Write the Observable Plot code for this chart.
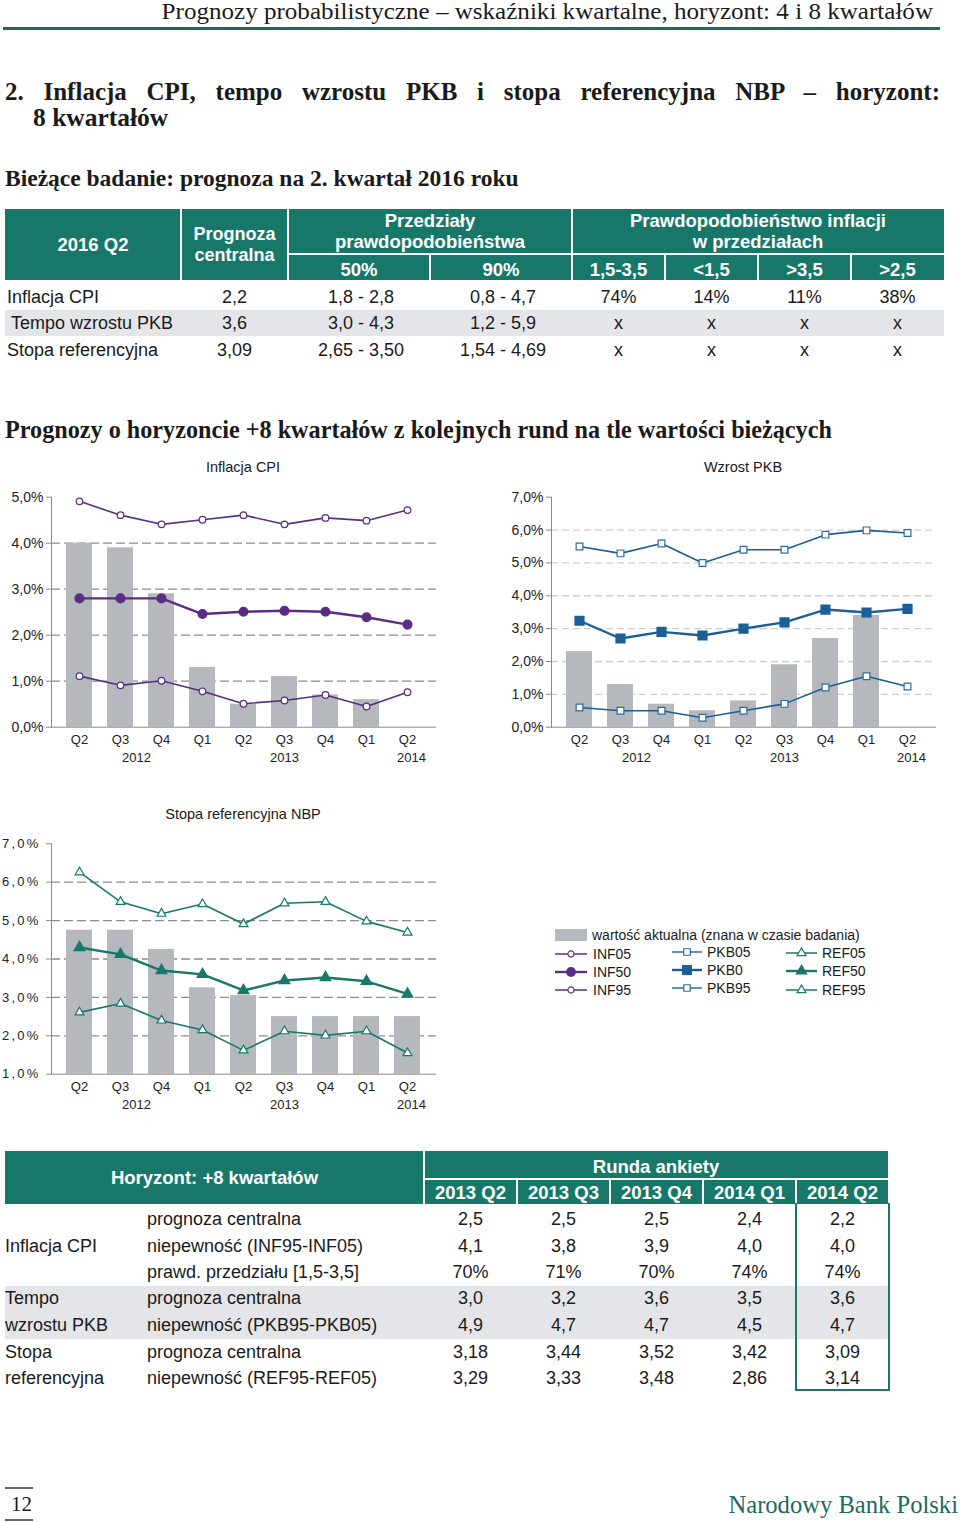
<!DOCTYPE html>
<html><head><meta charset="utf-8">
<script src="https://cdn.jsdelivr.net/npm/d3@7"></script>
<script src="https://cdn.jsdelivr.net/npm/@observablehq/plot@0.6"></script>
<style>
body{margin:0;background:#fff;}
#page{position:relative;width:960px;height:1522px;overflow:hidden;font-family:"Liberation Sans",Arial,sans-serif;color:#1a1a1a;background:#fff;}
.abs{position:absolute;white-space:nowrap;}
.serif{font-family:"Liberation Serif","Times New Roman",serif;}
.chart{position:absolute;}
.stopa g[aria-label="y-axis tick label"] text{letter-spacing:2.2px;}
</style></head>
<body><div id="page"></div>
<script>
// ---------- DATA ----------
const quarters = ["2012 Q2","2012 Q3","2012 Q4","2013 Q1","2013 Q2","2013 Q3","2013 Q4","2014 Q1","2014 Q2"];
const yearLabels = ["2012","2013","2014"];
const yearAt = ["2012 Q3","2013 Q3","2014 Q2"];

const cpiActual = [4.0, 3.9, 2.9, 1.3, 0.5, 1.1, 0.7, 0.6, null];
const inf95 = [4.91, 4.61, 4.41, 4.51, 4.61, 4.41, 4.55, 4.49, 4.72];
const inf50 = [2.80, 2.80, 2.80, 2.46, 2.51, 2.53, 2.51, 2.39, 2.23];
const inf05 = [1.11, 0.91, 1.01, 0.78, 0.51, 0.58, 0.70, 0.45, 0.76];

const pkbActual = [2.3, 1.3, 0.7, 0.5, 0.8, 1.9, 2.7, 3.4, null];
const pkb95 = [5.50, 5.29, 5.59, 5.00, 5.40, 5.40, 5.86, 5.99, 5.91];
const pkb50 = [3.24, 2.70, 2.90, 2.79, 3.00, 3.19, 3.58, 3.49, 3.60];
const pkb05 = [0.60, 0.50, 0.50, 0.29, 0.50, 0.71, 1.21, 1.55, 1.24];

const refActual = [4.75, 4.75, 4.25, 3.25, 3.05, 2.50, 2.50, 2.50, 2.50];
const ref95 = [6.26, 5.49, 5.18, 5.43, 4.91, 5.45, 5.49, 4.98, 4.69];
const ref50 = [4.30, 4.12, 3.70, 3.60, 3.18, 3.44, 3.52, 3.42, 3.09];
const ref05 = [2.61, 2.84, 2.40, 2.15, 1.62, 2.12, 2.01, 2.12, 1.55];

const cpiTicks = [0, 1, 2, 3, 4, 5];
const pkbTicks = [0, 1, 2, 3, 4, 5, 6, 7];
const refTicks = [1, 2, 3, 4, 5, 6, 7];

// table 1
const t1Rows = ["Inflacja CPI", "Tempo wzrostu PKB", "Stopa referencyjna"];
const t1Central = ["2,2", "3,6", "3,09"];
const t1Int50 = ["1,8 - 2,8", "3,0 - 4,3", "2,65 - 3,50"];
const t1Int90 = ["0,8 - 4,7", "1,2 - 5,9", "1,54 - 4,69"];
const t1ProbHeads = ["1,5-3,5", "<1,5", ">3,5", ">2,5"];
const t1Prob = [["74%","14%","11%","38%"], ["x","x","x","x"], ["x","x","x","x"]];

// table 2
const t2Rounds = ["2013 Q2", "2013 Q3", "2013 Q4", "2014 Q1", "2014 Q2"];
const t2Groups = ["", "Inflacja CPI", "", "Tempo", "wzrostu PKB", "Stopa", "referencyjna"];
const t2Labels = ["prognoza centralna", "niepewność (INF95-INF05)", "prawd. przedziału [1,5-3,5]",
  "prognoza centralna", "niepewność (PKB95-PKB05)", "prognoza centralna", "niepewność (REF95-REF05)"];
const t2Values = [
  ["2,5","2,5","2,5","2,4","2,2"],
  ["4,1","3,8","3,9","4,0","4,0"],
  ["70%","71%","70%","74%","74%"],
  ["3,0","3,2","3,6","3,5","3,6"],
  ["4,9","4,7","4,7","4,5","4,7"],
  ["3,18","3,44","3,52","3,42","3,09"],
  ["3,29","3,33","3,48","2,86","3,14"]
];

// legend
const legendActual = "wartość aktualna (znana w czasie badania)";
const legendInf = ["INF05", "INF50", "INF95"];
const legendPkb = ["PKB05", "PKB0", "PKB95"];
const legendRef = ["REF05", "REF50", "REF95"];

// ---------- STYLE ----------
const TEAL = "#17786a";
const DARKTEAL = "#22675d";
const GRAYROW = "#e4e5e8";
const BAR = "#b5b8bc";
const PURPLE = "#5b2d82";
const BLUE = "#1a5f98";
const BLUEL = "#2d6d9e";
const GREEN = "#18786a";

const page = document.getElementById("page");
function el(css, text, cls) {
  const e = document.createElement("div");
  e.className = "abs" + (cls ? " " + cls : "");
  Object.assign(e.style, css);
  if (text != null) e.textContent = text;
  page.appendChild(e);
  return e;
}
function box(x1, y1, x2, y2, bg) {
  return el({left: x1 + "px", top: y1 + "px", width: (x2 - x1) + "px", height: (y2 - y1) + "px", background: bg});
}
function ctext(text, x1, x2, yc, fs = 18, extra = {}) {
  const lh = Math.round(fs * 1.25);
  return el(Object.assign({left: x1 + "px", width: (x2 - x1) + "px", top: (yc - lh / 2) + "px", height: lh + "px",
    lineHeight: lh + "px", fontSize: fs + "px", textAlign: "center"}, extra), text);
}
function ltext(text, x, yc, fs = 18, extra = {}, cls) {
  const lh = Math.round(fs * 1.25);
  return el(Object.assign({left: x + "px", top: (yc - lh / 2) + "px", lineHeight: lh + "px", fontSize: fs + "px"}, extra), text, cls);
}

// ---------- PAGE HEADER ----------
el({left: "0px", width: "933px", top: "0px", lineHeight: "24px", fontSize: "23px", textAlign: "right",
  transform: "scaleX(1.09)", transformOrigin: "933px 50%"},
  "Prognozy probabilistyczne – wskaźniki kwartalne, horyzont: 4 i 8 kwartałów", "serif");
box(3, 27, 940, 30, DARKTEAL);

el({left: "5px", width: "935px", top: "77px", lineHeight: "30px", fontSize: "25px", fontWeight: "bold",
  textAlign: "justify", textAlignLast: "justify", whiteSpace: "normal"},
  "2. Inflacja CPI, tempo wzrostu PKB i stopa referencyjna NBP – horyzont:", "serif");
ltext("8 kwartałów", 33, 118, 25.5, {fontWeight: "bold"}, "serif");
ltext("Bieżące badanie: prognoza na 2. kwartał 2016 roku", 5, 178, 23.5, {fontWeight: "bold"}, "serif");

// ---------- TABLE 1 ----------
box(5, 209, 944, 280, TEAL);
[181, 288, 572].forEach(x => box(x - 1, 209, x + 1, 280, "#fff"));
box(288, 253, 944, 255, "#fff");
[430, 665, 758, 851].forEach(x => box(x - 1, 254, x + 1, 280, "#fff"));
const hw = {color: "#fff", fontWeight: "bold"};
ctext("2016 Q2", 5, 181, 244, 18.5, hw);
ctext("Prognoza", 181, 288, 234, 18, hw);
ctext("centralna", 181, 288, 255, 18, hw);
ctext("Przedziały", 288, 572, 220, 18.5, hw);
ctext("prawdopodobieństwa", 288, 572, 241, 18.5, hw);
ctext("Prawdopodobieństwo inflacji", 572, 944, 220, 18.5, hw);
ctext("w przedziałach", 572, 944, 241, 18.5, hw);
ctext("50%", 288, 430, 269, 18.5, hw);
ctext("90%", 430, 572, 269, 18.5, hw);
t1ProbHeads.forEach((h, i) => ctext(h, 572 + 93 * i, 665 + 93 * i, 269, 18.5, hw));

box(5, 310, 944, 336, GRAYROW);
const t1y = [297, 323, 350];
t1Rows.forEach((r, i) => {
  ltext(r, i === 1 ? 11 : 7, t1y[i], 18);
  ctext(t1Central[i], 181, 288, t1y[i], 18);
  ctext(t1Int50[i], 290, 432, t1y[i], 18);
  ctext(t1Int90[i], 432, 574, t1y[i], 18);
  t1Prob[i].forEach((p, j) => ctext(p, 572 + 93 * j, 665 + 93 * j, t1y[i], 18));
});

el({left: "5px", top: "415px", lineHeight: "30px", fontSize: "24.2px", fontWeight: "bold"},
  "Prognozy o horyzoncie +8 kwartałów z kolejnych rund na tle wartości bieżących", "serif");

// ---------- CHARTS ----------
const fmt = d => d.toFixed(1).replace(".", ",") + "%";
function rowsOf(actual, p05, p50, p95) {
  return quarters.map((q, i) => ({q, actual: actual[i], p05: p05[i], p50: p50[i], p95: p95[i]}));
}
function chart(o) {
  const rows = rowsOf(o.actual, o.p05, o.p50, o.p95);
  const yearMarks = yearLabels.map((t, i) =>
    Plot.text([t], {x: [yearAt[i]], text: d => d, frameAnchor: "bottom", dy: 35, dx: [16, 0, 4][i], fontSize: 13, fill: "#222"}));
  const outer = (k) => [
    Plot.lineY(rows, {x: "q", y: k, stroke: o.color, strokeWidth: 1.6}),
    Plot.dot(rows, {x: "q", y: k, symbol: o.symbol, r: o.rOut, fill: "#fff", stroke: o.colorOut || o.color, strokeWidth: 1.2})
  ];
  const svg = Plot.plot({
    width: 440, height: 290,
    marginLeft: 51, marginRight: 4, marginTop: o.marginTop, marginBottom: 290 - o.bottom,
    className: o.cls,
    style: {fontFamily: "Liberation Sans, Arial, sans-serif", fontSize: "13px", color: "#222", background: "transparent", overflow: "visible"},
    x: {type: "band", domain: quarters, range: [58.5, 427.5], paddingInner: 0.37, paddingOuter: 0.185, label: null},
    y: {domain: o.domain, label: null},
    marks: [
      Plot.ruleY(o.grid, {stroke: o.gridColor, strokeWidth: 1.3, strokeDasharray: o.dash}),
      Plot.barY(rows.filter(d => d.actual != null), {x: "q", y1: o.domain[0], y2: "actual", fill: BAR}),
      Plot.frame({anchor: "left", stroke: "#8a8a8a"}),
      Plot.ruleY([o.domain[0]], {stroke: "#8a8a8a"}),
      Plot.axisY({ticks: o.ticks, tickFormat: fmt, tickSize: 5, tickPadding: o.tickPad || 3, stroke: "#8a8a8a", fill: "#222", fontSize: o.yFont || 14, label: null}),
      Plot.axisX({tickSize: 0, tickPadding: 8, tickFormat: d => d.slice(5), fill: "#222", fontSize: 13, label: null}),
      ...yearMarks,
      ...outer("p95"),
      ...outer("p05"),
      Plot.lineY(rows, {x: "q", y: "p50", stroke: o.color, strokeWidth: 2.4}),
      Plot.dot(rows, {x: "q", y: "p50", symbol: o.symbol, r: o.rMid, fill: o.color, stroke: o.color})
    ]
  });
  svg.classList.add("chart");
  svg.style.left = o.left + "px";
  svg.style.top = o.top + "px";
  page.appendChild(svg);
}

ctext("Inflacja CPI", 143, 343, 467, 14.5);
chart({actual: cpiActual, p05: inf05, p50: inf50, p95: inf95, domain: [0, 5], ticks: cpiTicks, grid: [1, 2, 3, 4],
  gridColor: "#8c8c8c", dash: "9,4", color: PURPLE, symbol: "circle", rMid: 4.3, rOut: 3.3,
  left: 0, top: 480, marginTop: 16.7, bottom: 246.7, cls: "cpi"});

ctext("Wzrost PKB", 643, 843, 467, 14.5);
chart({actual: pkbActual, p05: pkb05, p50: pkb50, p95: pkb95, domain: [0, 7], ticks: pkbTicks, grid: [1, 2, 3, 4, 5, 6],
  gridColor: "#cfcfcf", dash: "7,4", color: BLUE, colorOut: BLUEL, symbol: "square", rMid: 4.9, rOut: 3.8,
  left: 500, top: 480, marginTop: 16.7, bottom: 246.7, cls: "pkb"});

ctext("Stopa referencyjna NBP", 143, 343, 814, 14.5);
chart({actual: refActual, p05: ref05, p50: ref50, p95: ref95, domain: [1, 7], ticks: refTicks, grid: [2, 3, 4, 5, 6],
  gridColor: "#8c8c8c", dash: "9,4", color: GREEN, symbol: "triangle", rMid: 3.8, rOut: 3.3, tickPad: 6, yFont: 13,
  left: 0, top: 830, marginTop: 13.3, bottom: 243.7, cls: "stopa"});

// ---------- LEGEND ----------
box(555, 929, 587, 941, BAR);
ltext(legendActual, 592, 935, 14);
const lg = d3.select(page).append("svg").attr("class", "abs")
  .style("left", "0px").style("top", "0px").attr("width", 960).attr("height", 1010)
  .style("pointer-events", "none");
function legendRow(x1, x2, y, color, symbolType, size, filled, wide) {
  lg.append("line").attr("x1", x1).attr("x2", x2).attr("y1", y).attr("y2", y)
    .attr("stroke", color).attr("stroke-width", wide ? 2.4 : 1.5);
  lg.append("path").attr("d", d3.symbol(symbolType, size)())
    .attr("transform", `translate(${(x1 + x2) / 2},${y})`)
    .attr("fill", filled ? color : "#fff").attr("stroke", color).attr("stroke-width", 1.2);
}
const infY = [954, 972, 990], pkbY = [952, 970, 988], refY = [953, 971, 990];
legendInf.forEach((t, i) => { legendRow(555, 587, infY[i], PURPLE, d3.symbolCircle, i === 1 ? 58 : 30, i === 1, i === 1); ltext(t, 593, infY[i], 14); });
legendPkb.forEach((t, i) => { legendRow(672, 702, pkbY[i], i === 1 ? BLUE : BLUEL, d3.symbolSquare, i === 1 ? 75 : 42, i === 1, i === 1); ltext(t, 707, pkbY[i], 14); });
legendRef.forEach((t, i) => { legendRow(786, 817, refY[i], GREEN, d3.symbolTriangle, i === 1 ? 45 : 34, i === 1, i === 1); ltext(t, 822, refY[i], 14); });

// ---------- TABLE 2 ----------
box(5, 1151, 888, 1204, TEAL);
box(423, 1151, 425, 1204, "#fff");
box(424, 1178, 888, 1180, "#fff");
[517, 610, 703, 796].forEach(x => box(x - 1, 1180, x + 1, 1204, "#fff"));
ctext("Horyzont: +8 kwartałów", 5, 424, 1177, 18.5, hw);
ctext("Runda ankiety", 424, 888, 1166, 18.5, hw);
t2Rounds.forEach((r, i) => ctext(r, 424 + 93 * i, 517 + 93 * i, 1192, 18.5, hw));
box(5, 1286, 888, 1339, GRAYROW);
const t2y = [1219, 1246, 1272, 1298, 1325, 1352, 1378];
t2Labels.forEach((lab, i) => {
  if (t2Groups[i]) ltext(t2Groups[i], 5, t2y[i], 18);
  ltext(lab, 147, t2y[i], 18);
  t2Values[i].forEach((v, j) => ctext(v, 424 + 93 * j, 517 + 93 * j, t2y[i], 18));
});
el({left: "795px", top: "1203px", width: "91px", height: "186px", border: "2px solid " + TEAL, borderTop: "none"});

// ---------- FOOTER ----------
box(5, 1487, 33, 1489, "#666");
box(5, 1519, 33, 1521, "#666");
ltext("12", 11, 1504, 21, {}, "serif");
el({left: "0px", width: "958px", top: "1490px", lineHeight: "30px", fontSize: "24.6px", textAlign: "right", color: "#1d6a5c"},
  "Narodowy Bank Polski", "serif");
</script>
</body></html>
